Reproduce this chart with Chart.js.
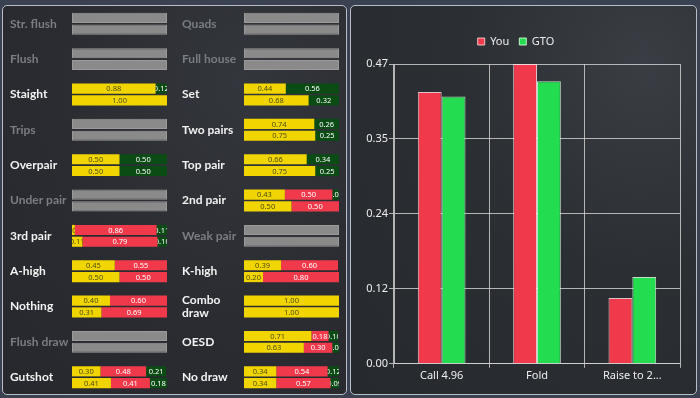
<!DOCTYPE html>
<html>
<head>
<meta charset="utf-8">
<script src="https://cdn.jsdelivr.net/npm/chart.js@4.4.1/dist/chart.umd.min.js"></script>
<style>
  html,body{margin:0;padding:0;}
  body{width:700px;height:398px;overflow:hidden;background:#3a4251;position:relative;font-family:"Noto Sans",sans-serif;}
  .panel{position:absolute;top:5px;height:388px;border:1px solid #b8bdc6;border-radius:5px;
    background:radial-gradient(ellipse at 70% 20%, #33363c 0%, #2a2c31 55%, #26282d 100%);}
  #pl{left:2px;width:343px;}
  #pr{left:350px;width:345px;background:radial-gradient(ellipse at 85% 15%, #3a3d43 0%, #2b2e33 45%, #26292e 100%);}
  canvas{position:absolute;}
</style>
</head>
<body>
<div class="panel" id="pl"></div>
<div class="panel" id="pr"></div>
<canvas id="cl" width="157" height="377" style="left:10px;top:12px;"></canvas>
<canvas id="cr" width="157" height="377" style="left:182px;top:12px;"></canvas>
<canvas id="cm" width="329" height="357" style="left:352px;top:26px;"></canvas>
<script>
// ---- Hand-category data: [yellow, red, green] shares; null = no hands (grey) ----
const leftLabels = ['Str. flush','Flush','Staight','Trips','Overpair','Under pair','3rd pair','A-high','Nothing','Flush draw','Gutshot'];
const leftYou = [null,null,[0.88,0,0.12],null,[0.50,0,0.50],null,[0.03,0.86,0.11],[0.45,0.55,0],[0.40,0.60,0],null,[0.30,0.48,0.21]];
const leftGto = [null,null,[1.00,0,0],null,[0.50,0,0.50],null,[0.11,0.79,0.10],[0.50,0.50,0],[0.31,0.69,0],null,[0.41,0.41,0.18]];

const rightLabels = ['Quads','Full house','Set','Two pairs','Top pair','2nd pair','Weak pair','K-high',['Combo','draw'],'OESD','No draw'];
const rightYou = [null,null,[0.44,0,0.56],[0.74,0,0.26],[0.66,0,0.34],[0.43,0.50,0.07],null,[0.39,0.60,0],[1.00,0,0],[0.71,0.18,0.10],[0.34,0.54,0.12]];
const rightGto = [null,null,[0.68,0,0.32],[0.75,0,0.25],[0.75,0,0.25],[0.50,0.50,0],null,[0.20,0.80,0],[1.00,0,0],[0.63,0.30,0.07],[0.34,0.57,0.09]];

// ---- Action frequency chart ----
const actions = ['Call 4.96','Fold','Raise to 2...'];
const youFreq = [0.426,0.470,0.103];
const gtoFreq = [0.419,0.443,0.136];
const yMax = 0.47;
const yTickLabels = ['0.00','0.12','0.24','0.35','0.47'];

const FONT = '"Noto Sans", sans-serif';
const LFONT = 'Lato, "Noto Sans", sans-serif';
const YEL='#f1d500', RED='#f03a4c', GRN='#0b4b14', GRAY='#8a8a8a';

const segLabels = {
  id:'segLabels',
  afterDatasetsDraw(chart){
    const ctx = chart.ctx;
    chart.data.datasets.forEach((ds,di)=>{
      if(!ds.textColor) return;
      chart.getDatasetMeta(di).data.forEach((el,i)=>{
        const v = ds.data[i];
        if(!v) return;
        const p = el.getProps(['x','base','y','height'], true);
        const l = Math.min(p.x,p.base), r = Math.max(p.x,p.base);
        ctx.save();
        ctx.beginPath(); ctx.rect(l, p.y-p.height/2, r-l, p.height); ctx.clip();
        ctx.fillStyle = ds.textColor;
        ctx.font = '7.5px ' + FONT;
        ctx.textAlign='center'; ctx.textBaseline='middle';
        ctx.fillText(v.toFixed(2), (l+r)/2, p.y+0.5);
        ctx.restore();
      });
    });
  }
};

function buildColumn(id, labels, you, gto){
  const tick=[], col=[], yel=[], red=[], grn=[], gray=[];
  labels.forEach((lab,i)=>{
    [you[i], gto[i]].forEach((v,j)=>{
      tick.push(j===0 ? lab : '');
      col.push(you[i] ? '#f2f2f2' : '#7a7d83');
      yel.push(v ? (v[0]||null) : null);
      red.push(v ? (v[1]||null) : null);
      grn.push(v ? (v[2]||null) : null);
      gray.push(v ? null : 1);
    });
    if(i < labels.length-1){ tick.push(''); col.push('#fff'); yel.push(null); red.push(null); grn.push(null); gray.push(null); }
  });
  new Chart(document.getElementById(id), {
    type:'bar',
    data:{ labels: tick, datasets:[
      {data:yel, backgroundColor:YEL, textColor:'#4f4c08'},
      {data:red, backgroundColor:RED, textColor:'#ffffff'},
      {data:grn, backgroundColor:GRN, textColor:'#ffffff'},
      {data:gray, backgroundColor:GRAY, borderColor:'#9a9a9a', borderWidth:1, borderSkipped:false}
    ]},
    options:{
      indexAxis:'y', responsive:false, animation:false,
      layout:{padding:0},
      datasets:{bar:{barPercentage:0.86, categoryPercentage:1}},
      plugins:{legend:{display:false}, tooltip:{enabled:false}},
      scales:{
        x:{display:false, stacked:true, min:0, max:1},
        y:{stacked:true, grid:{display:false}, border:{display:false},
           ticks:{autoSkip:false, labelOffset:5.9, crossAlign:'far', padding:0,
             color:(c)=>col[c.index], font:{family:LFONT, size:12, weight:'bold', lineHeight:1.1}},
           afterFit:(s)=>{ s.width=62; s.paddingTop=0; s.paddingBottom=0; }}
      }
    },
    plugins:[segLabels]
  });
}
buildColumn('cl', leftLabels, leftYou, leftGto);
buildColumn('cr', rightLabels, rightYou, rightGto);

const legendGap = {
  id:'legendGap',
  beforeInit(chart){
    const fit = chart.legend.fit;
    chart.legend.fit = function(){ fit.call(this); this.height += 7; };
  }
};

const gridCol = 'rgba(215,215,215,0.8)';
new Chart(document.getElementById('cm'), {
  type:'bar',
  data:{ labels: actions, datasets:[
    {label:'You', data:youFreq, backgroundColor:RED, borderColor:'rgba(255,220,225,0.85)', borderWidth:1},
    {label:'GTO', data:gtoFreq, backgroundColor:'#23dc4f', borderColor:'rgba(220,255,225,0.85)', borderWidth:1}
  ]},
  options:{
    responsive:false, animation:false,
    layout:{padding:{left:0,right:1,top:0,bottom:0}},
    datasets:{bar:{barPercentage:1, categoryPercentage:0.5}},
    plugins:{
      tooltip:{enabled:false},
      legend:{labels:{boxWidth:7, boxHeight:7, color:'#eeeeee', font:{family:FONT, size:11}}}
    },
    scales:{
      x:{grid:{color:gridCol, tickLength:4, offset:true}, border:{color:gridCol},
         ticks:{color:'#eeeeee', padding:1, maxRotation:0, autoSkip:false, font:{family:FONT, size:11}}},
      y:{min:0, max:yMax, grid:{color:gridCol, tickLength:5}, border:{color:gridCol},
         afterBuildTicks:(s)=>{ s.ticks = yTickLabels.map((l,i)=>({value: yMax*i/(yTickLabels.length-1)})); },
         ticks:{color:'#eeeeee', padding:1, font:{family:FONT, size:11}, callback:(v,i)=>yTickLabels[i]},
         afterFit:(s)=>{ s.width=42; }}
    }
  },
  plugins:[legendGap]
});
</script>
</body>
</html>
